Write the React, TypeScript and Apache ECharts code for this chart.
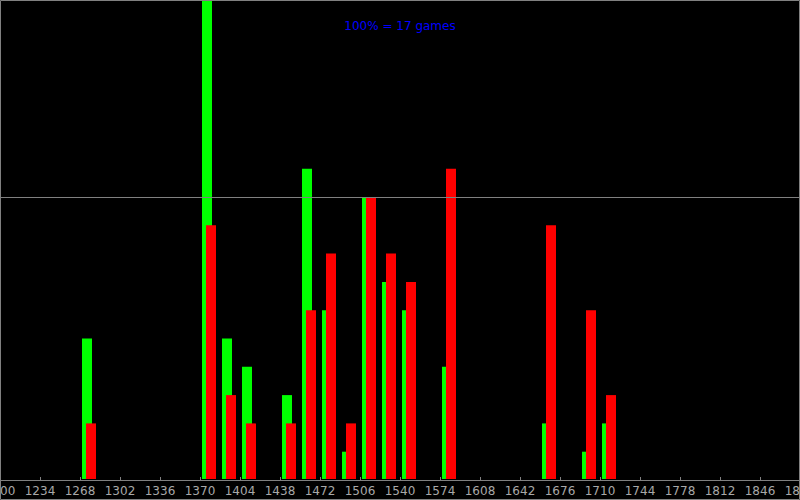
import React, { useEffect, useRef } from "react";
import * as echarts from "echarts";

const binStarts = [1268, 1370, 1387, 1404, 1438, 1455, 1472, 1489, 1506, 1523, 1540, 1574, 1659, 1693, 1710];
const greenValues = [50, 170, 50, 40, 30, 110, 60, 10, 100, 70, 60, 40, 20, 10, 20];
const redValues = [20, 90, 30, 20, 20, 60, 80, 20, 100, 80, 70, 110, 90, 60, 30];
const xMin = 1200;
const xMax = 1880;
const xInterval = 34;
const referenceLevel = 100;
const titleText = "100% = 17 games";

const FONT = "DejaVu Sans";

function makeBarSeries(values: number[], color: string, offset: number) {
  return {
    type: "custom",
    clip: true,
    data: binStarts.map((b, i) => [b, values[i]]),
    encode: { x: 0, y: 1 },
    renderItem: (_params: any, api: any) => {
      const x = api.value(0);
      const v = api.value(1);
      const top = api.coord([x, v]);
      const base = api.coord([x, 0]);
      return {
        type: "rect",
        shape: { x: base[0] + offset, y: top[1], width: 10, height: base[1] - 1 - top[1] },
        style: { fill: color },
      };
    },
  };
}

export default function App() {
  const ref = useRef<HTMLDivElement>(null);
  useEffect(() => {
    if (!ref.current) return;
    const chart = echarts.init(ref.current, null, { renderer: "svg" });
    const green = makeBarSeries(greenValues, "#00ff00", 2);
    const red: any = makeBarSeries(redValues, "#ff0000", 6);
    red.markLine = {
      silent: true,
      symbol: "none",
      label: { show: false },
      lineStyle: { color: "#808080", type: "solid", width: 1 },
      data: [{ yAxis: referenceLevel }],
    };
    chart.setOption({
      animation: false,
      backgroundColor: "#000000",
      title: {
        text: titleText,
        left: "center",
        top: 15,
        textStyle: { color: "#0000ff", fontSize: 12, fontWeight: "normal", fontFamily: FONT },
      },
      grid: {
        left: 0,
        right: 0,
        top: 0,
        bottom: 20,
        containLabel: false,
        outerBoundsMode: "none",
      },
      xAxis: {
        type: "value",
        min: xMin,
        max: xMax,
        interval: xInterval,
        splitLine: { show: false },
        axisLine: { show: true, lineStyle: { color: "#808080", width: 1 } },
        axisTick: { show: true, inside: true, length: 3, lineStyle: { color: "#808080" } },
        axisLabel: {
          show: true,
          color: "#a8a8a8",
          fontSize: 12,
          fontFamily: FONT,
          margin: 5,
          showMinLabel: true,
          showMaxLabel: true,
          hideOverlap: false,
          formatter: (v: number) => String(v),
        },
      },
      yAxis: {
        type: "value",
        min: 0,
        max: 169.6,
        show: false,
        splitLine: { show: false },
      },
      graphic: [
        {
          type: "rect",
          z: 100,
          silent: true,
          shape: { x: 0.5, y: 0.5, width: 799, height: 499 },
          style: { fill: "none", stroke: "#808080", lineWidth: 1 },
        },
      ],
      series: [green, red],
    });
    return () => chart.dispose();
  }, []);
  return (
    <div
      ref={ref}
      style={{ position: "fixed", left: 0, top: 0, width: 800, height: 500 }}
    />
  );
}
